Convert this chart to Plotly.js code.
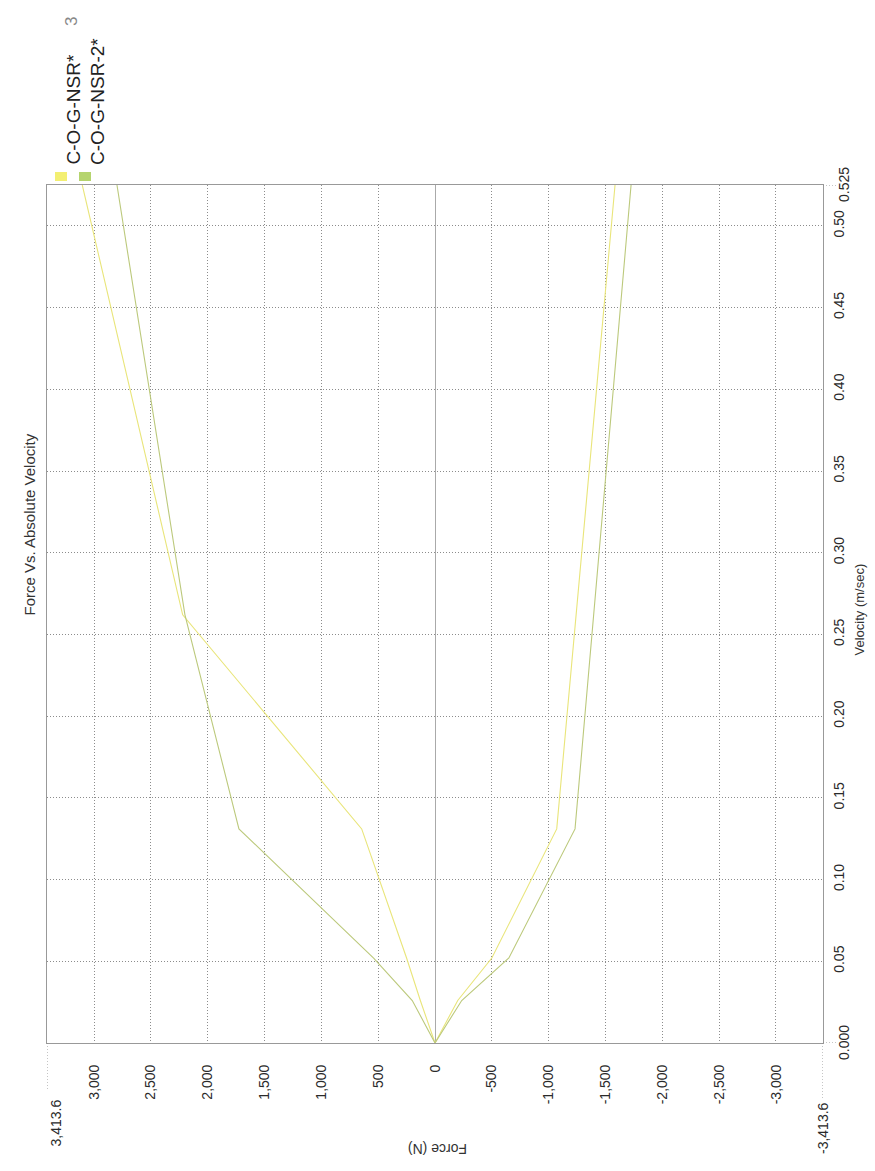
<!DOCTYPE html>
<html>
<head>
<meta charset="utf-8">
<script src="https://cdn.plot.ly/plotly-3.0.1.min.js"></script>
<style>html,body{margin:0;padding:0;background:#fff;}#chart{width:875px;height:1171px;}</style>
</head>
<body>
<div id="chart"></div>
<script>
// Data (velocity m/s, force N); each series: rebound branch then compression branch
const velocity = [0.525, 0.262, 0.131, 0.052, 0.026, 0, 0.026, 0.052, 0.131, 0.262, 0.525];
const forceNSR = [-1584, -1243, -1071, -500, -200, 0, 129, 250, 645, 2220, 3103.3];
const forceNSR2 = [-1725, -1397, -1232, -650, -235, 0, 200, 540, 1725, 2200, 2798];
const seriesNames = ["C-O-G-NSR*", "C-O-G-NSR-2*"];
const seriesColors = ["#e9e57a", "#bcc97c"];
const swatchColors = ["#f3ef72", "#b5d46e"];
const forceTicks = [3000, 2500, 2000, 1500, 1000, 500, 0, -500, -1000, -1500, -2000, -2500, -3000];
const forceTickText = ["3,000", "2,500", "2,000", "1,500", "1,000", "500", "0", "-500", "-1,000", "-1,500", "-2,000", "-2,500", "-3,000"];
const velTicks = [0.05, 0.10, 0.15, 0.20, 0.25, 0.30, 0.35, 0.40, 0.45, 0.50];
const velTickText = ["0.05", "0.10", "0.15", "0.20", "0.25", "0.30", "0.35", "0.40", "0.45", "0.50"];
const forceMax = 3413.6;
const velMax = 0.525;

const font = "Liberation Sans, Arial, sans-serif";
const gray = "#8c8c8c";
const tickCol = "#2a2a2a";

const traces = [
  {x: forceNSR, y: velocity, name: seriesNames[0], mode: "lines", line: {color: seriesColors[0], width: 1.1}},
  {x: forceNSR2, y: velocity, name: seriesNames[1], mode: "lines", line: {color: seriesColors[1], width: 1.1}}
];

const W = 776, H = 858;
const annotations = [
  {text: "Force Vs. Absolute Velocity", textangle: -90, xref: "paper", yref: "paper",
   x: (18 - 47) / W, y: (1043 - 432) / H, showarrow: false, font: {family: font, size: 15, color: "#333"}},
  {text: "Velocity (m/sec)", textangle: -90, xref: "paper", yref: "paper",
   x: (868 - 47) / W, y: (1043 - 610) / H, showarrow: false, font: {family: font, size: 13, color: "#333"}},
  {text: "Force (N)", textangle: 180, xref: "paper", yref: "paper",
   x: (438 - 47) / W, y: (1043 - 1159) / H, showarrow: false, font: {family: font, size: 14, color: "#333"}},
  {text: "0.000", textangle: -90, xref: "paper", yref: "y", x: (854 - 47) / W, y: 0,
   showarrow: false, font: {family: font, size: 14, color: tickCol}},
  {text: "0.525", textangle: -90, xref: "paper", yref: "y", x: (854 - 47) / W, y: velMax,
   showarrow: false, font: {family: font, size: 14, color: tickCol}},
  {text: "3,413.6", textangle: -90, xref: "x", yref: "paper", x: forceMax, xshift: 8, y: (1043 - 1098) / H,
   yanchor: "top", showarrow: false, font: {family: font, size: 14, color: tickCol}},
  {text: "-3,413.6", textangle: -90, xref: "x", yref: "paper", x: -forceMax, y: (1043 - 1100) / H,
   yanchor: "top", showarrow: false, font: {family: font, size: 14, color: tickCol}},
  {text: "3", textangle: -90, xref: "paper", yref: "paper", x: (60 - 47) / W, y: (1043 - 15) / H,
   showarrow: false, font: {family: font, size: 17, color: "#888"}}
];
const legendX = [61, 85];
const shapes = [];
seriesNames.forEach((n, i) => {
  annotations.push({text: n, textangle: -90, xref: "paper", yref: "paper",
    x: (legendX[i] - 47) / W, y: (1043 - 167) / H, yanchor: "bottom", showarrow: false,
    font: {family: font, size: 19, color: "#222"}});
  shapes.push({type: "rect", xref: "paper", yref: "paper",
    x0: (legendX[i] - 6 - 47) / W, x1: (legendX[i] + 6 - 47) / W,
    y0: (1043 - 181) / H, y1: (1043 - 172) / H, line: {width: 0}, fillcolor: swatchColors[i]});
});
// dotted extensions of end ticks
shapes.push({type: "line", xref: "x", yref: "paper", x0: forceMax, x1: forceMax, y0: 0, y1: -47 / H,
  line: {color: gray, width: 1, dash: "1px,2px"}});
shapes.push({type: "line", xref: "x", yref: "paper", x0: -forceMax, x1: -forceMax, y0: 0, y1: -57 / H,
  line: {color: gray, width: 1, dash: "1px,2px"}});
shapes.push({type: "line", xref: "paper", yref: "y", x0: 1, x1: 1 + 15 / W, y0: 0, y1: 0,
  line: {color: gray, width: 1, dash: "1px,2px"}});
shapes.push({type: "line", xref: "paper", yref: "y", x0: 1, x1: 1 + 15 / W, y0: velMax, y1: velMax,
  line: {color: gray, width: 1, dash: "1px,2px"}});

const layout = {
  width: 875, height: 1171,
  margin: {l: 47, r: 52, t: 185, b: 128, pad: 0},
  paper_bgcolor: "#fff", plot_bgcolor: "#fff",
  showlegend: false,
  xaxis: {
    range: [forceMax, -forceMax], tickvals: forceTicks, ticktext: forceTickText,
    tickangle: -90, ticks: "", ticklabelstandoff: 15,
    tickfont: {family: font, size: 14, color: tickCol},
    showgrid: true, gridcolor: gray, griddash: "1px,2px", gridwidth: 1,
    zeroline: true, zerolinecolor: "#aaa", zerolinewidth: 1,
    showline: true, mirror: true, linecolor: "#999", linewidth: 1, fixedrange: true
  },
  yaxis: {
    range: [0, velMax], side: "right", tickvals: velTicks, ticktext: velTickText,
    tickangle: -90, ticks: "", ticklabelstandoff: 3,
    tickfont: {family: font, size: 14, color: tickCol},
    showgrid: true, gridcolor: gray, griddash: "1px,2px", gridwidth: 1,
    zeroline: false,
    showline: true, mirror: true, linecolor: "#999", linewidth: 1, fixedrange: true
  },
  annotations: annotations,
  shapes: shapes
};
Plotly.newPlot("chart", traces, layout, {staticPlot: true, displayModeBar: false});
</script>
</body>
</html>
